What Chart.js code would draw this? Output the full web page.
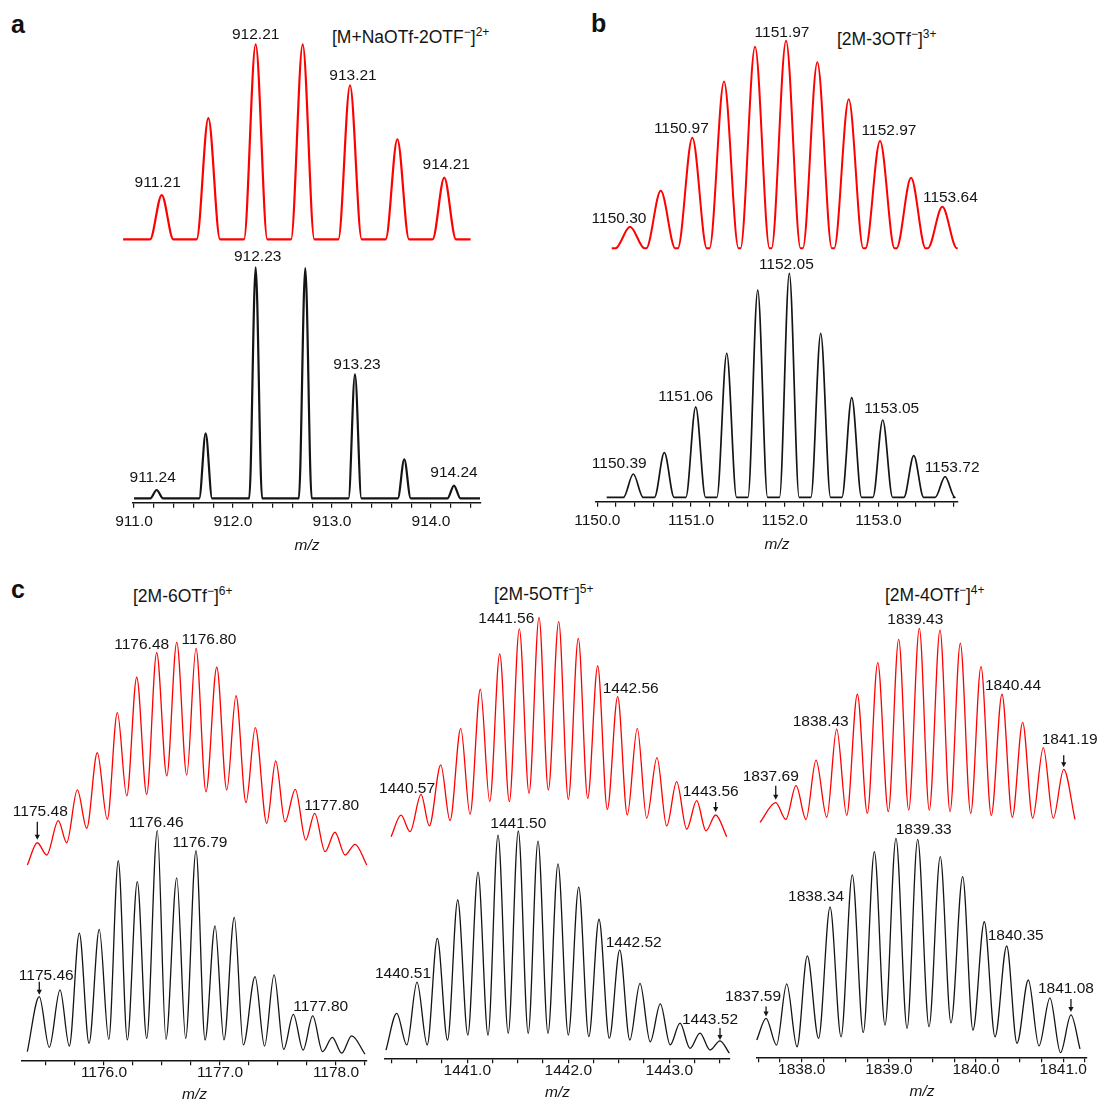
<!DOCTYPE html>
<html lang="en">
<head>
<meta charset="UTF-8">
<title>Isotope patterns</title>
<script src="https://cdn.jsdelivr.net/npm/chart.js"></script>
<style>
    body { margin: 0; background: #fff; font-family: "Liberation Sans", Arial, sans-serif; }
    #fig { position: relative; width: 1099px; height: 1111px; overflow: hidden; }
    #fig canvas { position: absolute; }
    .letter { position: absolute; font-weight: bold; font-size: 25px; line-height: 30px; color: #111; }
    .title { position: absolute; font-size: 17.5px; line-height: 20px; color: #141414; white-space: nowrap; }
    .title sup { font-size: 12px; line-height: 0; vertical-align: 7px; }
</style>
</head>
<body>
<div id="fig">
    <div class="letter" style="left:11px; top:9px">a</div>
    <div class="letter" style="left:591px; top:8px">b</div>
    <div class="letter" style="left:11px; top:574px">c</div>
    <div class="title" style="left:332px; top:27px">[M+NaOTf-2OTF<sup>−</sup>]<sup>2+</sup></div>
    <div class="title" style="left:837px; top:29px">[2M-3OTf<sup>−</sup>]<sup>3+</sup></div>
    <div class="title" style="left:133px; top:586px">[2M-6OTf<sup>−</sup>]<sup>6+</sup></div>
    <div class="title" style="left:494px; top:584px">[2M-5OTf<sup>−</sup>]<sup>5+</sup></div>
    <div class="title" style="left:885px; top:585px">[2M-4OTf<sup>−</sup>]<sup>4+</sup></div>
</div>

<script>
    const RED = '#ff0000';
    const INK = '#141414';
    const FONT = '"Liberation Sans", Arial, Helvetica, sans-serif';

    // ---- a: [M+NaOTf-2OTF-]2+ (red = calculated, black = measured) ----
    const aTicks = [911, 912, 913, 914];
    const aCalcMz = [911.280, 911.751, 912.229, 912.704, 913.182, 913.660, 914.134];
    const aCalcInt = [22.7, 62.1, 100, 100, 79.0, 51.3, 31.6];
    const aCalcEnds = [910.89, 914.40];
    const aCalcLabels = [911.21, 912.21, 913.21, 914.21];
    const aCalcLabelAt = [0, 2, 4, 6];
    const aExpMz = [911.229, 911.724, 912.229, 912.730, 913.232, 913.730, 914.232];
    const aExpInt = [3.6, 28.1, 100, 99.6, 53.7, 16.9, 5.5];
    const aExpEnds = [911.0, 914.495];
    const aExpLabels = [911.24, 912.23, 913.23, 914.24];
    const aExpLabelAt = [0, 2, 4, 6];

    // ---- b: [2M-3OTf-]3+ ----
    const bTicks = [1150, 1151, 1152, 1153];
    const bCalcMz = [1150.349, 1150.677, 1151.014, 1151.352, 1151.683, 1152.014, 1152.348, 1152.683, 1153.017, 1153.348, 1153.682];
    const bCalcInt = [10.4, 27.7, 53.3, 80.3, 97.1, 100, 89.6, 71.8, 51.7, 34.0, 20.0];
    const bCalcEnds = [1150.154, 1153.846];
    const bCalcLabels = [1150.30, 1150.97, 1151.97, 1152.97, 1153.64];
    const bCalcLabelAt = [0, 2, 5, 8, 10];
    const bExpMz = [1150.384, 1150.715, 1151.050, 1151.381, 1151.712, 1152.049, 1152.384, 1152.715, 1153.046, 1153.377, 1153.711];
    const bExpInt = [10.4, 19.9, 40.4, 64.3, 92.5, 100, 73.2, 44.5, 34.5, 18.6, 9.2];
    const bExpEnds = [1150.100, 1153.793];
    const bExpLabels = [1150.39, 1151.06, 1152.05, 1153.05, 1153.72];
    const bExpLabelAt = [0, 2, 5, 8, 10];

    // ---- c1: [2M-6OTf-]6+ ----
    const c1Ticks = [1176, 1177, 1178];
    const c1CalcMz = [1175.425, 1175.606, 1175.770, 1175.942, 1176.115, 1176.282, 1176.454, 1176.627, 1176.793, 1176.972, 1177.138, 1177.304, 1177.480, 1177.649, 1177.816, 1177.991, 1178.164];
    const c1CalcInt = [10.0, 19.9, 33.7, 50.4, 68.4, 84.3, 95.3, 100, 97.3, 88.8, 76.0, 61.7, 46.7, 34.0, 23.2, 14.7, 9.3];
    const c1CalcValMz = [1175.339, 1175.506, 1175.678, 1175.851, 1176.028, 1176.196, 1176.368, 1176.541, 1176.713, 1176.879, 1177.058, 1177.224, 1177.403, 1177.560, 1177.739, 1177.905, 1178.078, 1178.265];
    const c1CalcValInt = [0, 4.5, 10.0, 16.5, 20.5, 31.0, 31.7, 40.0, 40.4, 32.9, 33.7, 28.0, 18.7, 19.4, 11.2, 6.0, 4.5, 0];
    const c1CalcLabels = [1175.48, 1176.48, 1176.80, 1177.80];
    const c1CalcLabelAt = [0, 6, 8, 14];
    const c1ExpMz = [1175.442, 1175.621, 1175.787, 1175.959, 1176.123, 1176.287, 1176.459, 1176.627, 1176.793, 1176.957, 1177.123, 1177.302, 1177.466, 1177.632, 1177.799, 1177.968, 1178.135];
    const c1ExpInt = [26.0, 29.0, 54.3, 56.0, 86.6, 77.3, 100, 79.0, 91.1, 57.6, 61.4, 34.9, 35.7, 18.1, 17.4, 7.9, 8.5];
    const c1ExpValMz = [1175.339, 1175.528, 1175.701, 1175.871, 1176.041, 1176.201, 1176.368, 1176.534, 1176.704, 1176.871, 1177.034, 1177.201, 1177.384, 1177.549, 1177.716, 1177.884, 1178.049, 1178.250];
    const c1ExpValInt = [1.5, 3.4, 4.0, 5.2, 7.0, 6.7, 7.4, 7.0, 7.4, 6.7, 6.7, 4.5, 4.0, 2.5, 2.2, 1.5, 0.8, 0.4];
    const c1ExpLabels = [1175.46, 1176.46, 1176.79, 1177.80];
    const c1ExpLabelAt = [0, 6, 8, 14];

    // ---- c2: [2M-5OTf-]5+ ----
    const c2Ticks = [1441, 1442, 1443];
    const c2CalcMz = [1440.344, 1440.542, 1440.737, 1440.935, 1441.129, 1441.321, 1441.515, 1441.710, 1441.905, 1442.099, 1442.291, 1442.489, 1442.683, 1442.878, 1443.073, 1443.271, 1443.459];
    const c2CalcInt = [9.8, 19.3, 32.7, 49.4, 67.2, 83.3, 94.7, 100, 98.0, 90.4, 77.8, 63.8, 49.4, 36.0, 25.1, 16.4, 9.9];
    const c2CalcValMz = [1440.245, 1440.433, 1440.624, 1440.829, 1441.027, 1441.222, 1441.416, 1441.611, 1441.802, 1442.000, 1442.192, 1442.386, 1442.584, 1442.776, 1442.974, 1443.172, 1443.363, 1443.568];
    const c2CalcValInt = [0, 2.3, 4.9, 7.3, 10.2, 16.0, 16.0, 19.8, 21.3, 17.0, 17.5, 12.5, 9.9, 8.4, 4.9, 3.4, 2.7, 0];
    const c2CalcLabels = [1440.57, 1441.56, 1442.56, 1443.56];
    const c2CalcLabelAt = [1, 6, 11, 16];
    const c2ExpMz = [1440.301, 1440.502, 1440.703, 1440.905, 1441.106, 1441.304, 1441.505, 1441.700, 1441.898, 1442.103, 1442.304, 1442.509, 1442.710, 1442.911, 1443.106, 1443.304, 1443.502];
    const c2ExpInt = [18.6, 32.5, 52.1, 69.2, 81.6, 98.2, 100, 95.5, 85.3, 74.9, 60.6, 46.9, 32.0, 22.8, 14.2, 9.8, 6.3];
    const c2ExpValMz = [1440.195, 1440.401, 1440.603, 1440.804, 1441.005, 1441.205, 1441.405, 1441.603, 1441.799, 1442.000, 1442.203, 1442.406, 1442.609, 1442.811, 1443.009, 1443.205, 1443.403, 1443.594];
    const c2ExpValInt = [2.2, 4.5, 4.5, 6.7, 8.9, 8.9, 9.7, 9.7, 9.7, 8.9, 8.2, 7.5, 6.7, 5.9, 4.5, 3.0, 2.2, 0.8];
    const c2ExpLabels = [1440.51, 1441.50, 1442.52, 1443.52];
    const c2ExpLabelAt = [1, 6, 11, 16];

    // ---- c3: [2M-4OTf-]4+ ----
    const c3Ticks = [1838, 1839, 1840, 1841];
    const c3CalcMz = [1837.702, 1837.935, 1838.164, 1838.401, 1838.638, 1838.872, 1839.112, 1839.349, 1839.586, 1839.819, 1840.056, 1840.297, 1840.534, 1840.771, 1841.005];
    const c3CalcInt = [10.1, 18.9, 32.1, 48.1, 66.0, 82.3, 94.3, 100, 99.1, 92.3, 80.2, 66.0, 51.5, 38.5, 27.3];
    const c3CalcValMz = [1837.522, 1837.817, 1838.049, 1838.287, 1838.516, 1838.752, 1838.993, 1839.227, 1839.463, 1839.701, 1839.938, 1840.174, 1840.415, 1840.649, 1840.885, 1841.134];
    const c3CalcValInt = [0, 1.5, 1.5, 2.6, 3.6, 4.6, 5.5, 6.3, 6.3, 5.5, 4.6, 3.6, 2.6, 2.1, 2.1, 1.5];
    const c3CalcLabels = [1837.69, 1838.43, 1839.43, 1840.44, 1841.19];
    const c3CalcLabelAt = [0, 3, 7, 11, 14];
    const c3ExpMz = [1837.591, 1837.828, 1838.064, 1838.325, 1838.580, 1838.833, 1839.081, 1839.330, 1839.589, 1839.846, 1840.094, 1840.351, 1840.599, 1840.847, 1841.088];
    const c3ExpInt = [16.9, 32.8, 45.7, 68.2, 83.1, 93.8, 100, 99.5, 91.5, 82.3, 61.5, 50.3, 34.6, 26.4, 18.5];
    const c3ExpValMz = [1837.484, 1837.711, 1837.946, 1838.193, 1838.451, 1838.706, 1838.955, 1839.208, 1839.460, 1839.712, 1839.964, 1840.217, 1840.469, 1840.721, 1840.968, 1841.192];
    const c3ExpValInt = [6.9, 4.6, 3.8, 7.7, 8.4, 10.4, 13.8, 12.3, 13.1, 14.8, 11.5, 8.4, 5.4, 4.2, 1.1, 2.8];
    const c3ExpLabels = [1837.59, 1838.34, 1839.33, 1840.35, 1841.08];
    const c3ExpLabelAt = [0, 3, 7, 11, 14];

    // baseline-resolved peaks: foot, apex, foot
    function peakTrace(mz, inten, ends, hw) {
        const pts = [{ x: ends[0], y: 0 }];
        mz.forEach((m, i) => {
            pts.push({ x: m - hw, y: 0 }, { x: m, y: inten[i] }, { x: m + hw, y: 0 });
        });
        pts.push({ x: ends[1], y: 0 });
        return pts;
    }

    // overlapping peaks: valley, apex, valley, apex ... valley
    function extremaTrace(mz, inten, valMz, valInt) {
        const pts = [];
        valMz.forEach((m, i) => {
            pts.push({ x: m, y: valInt[i] });
            if (i < mz.length) pts.push({ x: mz[i], y: inten[i] });
        });
        return pts;
    }

    // layout: page pixels of the axis, of each trace's zero and 100 level, label offsets
    const panels = [
        {
            axisLeft: 133, axisRight: 481, padL: 40, padR: 40, top: 0, height: 555,
            xMin: 910.990, xMax: 914.505, minor: 0.2, ticks: aTicks, tickPad: 5, titlePad: 0,
            traces: [
                { data: peakTrace(aCalcMz, aCalcInt, aCalcEnds, 0.118), mz: aCalcMz, inten: aCalcInt, color: RED, width: 2.2,
                  p0: 239.3, p100: 44.3, labels: aCalcLabels, at: aCalcLabelAt,
                  off: [[-4, -12], [0, -10], [3, -10], [2, -13]] },
                { data: peakTrace(aExpMz, aExpInt, aExpEnds, 0.065), mz: aExpMz, inten: aExpInt, color: INK, width: 2.2,
                  p0: 498.3, p100: 267.3, labels: aExpLabels, at: aExpLabelAt,
                  off: [[-4, -12], [2, -11], [2, -10], [0, -13]] }
            ]
        },
        {
            axisLeft: 596, axisRight: 958, padL: 40, padR: 40, top: 0, height: 554,
            xMin: 1149.986, xMax: 1153.849, minor: 0.2, ticks: bTicks, tickPad: 5, titlePad: 0,
            traces: [
                { data: peakTrace(bCalcMz, bCalcInt, bCalcEnds, 0.155), mz: bCalcMz, inten: bCalcInt, color: RED, width: 2,
                  p0: 248.3, p100: 40.7, labels: bCalcLabels, at: bCalcLabelAt,
                  off: [[-11, -8], [-11, -9], [-4, -8], [9, -10], [8, -9]] },
                { data: peakTrace(bExpMz, bExpInt, bExpEnds, 0.105), mz: bExpMz, inten: bExpInt, color: INK, width: 1.7,
                  p0: 497.3, p100: 273.3, labels: bExpLabels, at: bExpLabelAt,
                  off: [[-14, -10], [-10, -10], [-3, -9], [9, -11], [7, -9]] }
            ]
        },
        {
            axisLeft: 22, axisRight: 367, padL: 20, padR: 10, top: 600, height: 504,
            xMin: 1175.293, xMax: 1178.267, minor: 0.25, ticks: c1Ticks, tickPad: -2, titlePad: 5.5,
            traces: [
                { data: extremaTrace(c1CalcMz, c1CalcInt, c1CalcValMz, c1CalcValInt), mz: c1CalcMz, inten: c1CalcInt, color: RED, width: 1.3,
                  p0: 865, p100: 642.3, labels: c1CalcLabels, at: c1CalcLabelAt,
                  off: [[3, -31, 21, 3], [-15, -8], [13, -9], [17, -8]] },
                { data: extremaTrace(c1ExpMz, c1ExpInt, c1ExpValMz, c1ExpValInt), mz: c1ExpMz, inten: c1ExpInt, color: INK, width: 1.3,
                  p0: 1055, p100: 830.7, labels: c1ExpLabels, at: c1ExpLabelAt,
                  off: [[7, -21, 15, 2], [-1, -8], [4, -8], [8, -9]] }
            ]
        },
        {
            axisLeft: 385, axisRight: 730, padL: 10, padR: 10, top: 600, height: 502,
            xMin: 1440.185, xMax: 1443.601, minor: 0.25, ticks: c2Ticks, tickPad: -2, titlePad: 5.5,
            traces: [
                { data: extremaTrace(c2CalcMz, c2CalcInt, c2CalcValMz, c2CalcValInt), mz: c2CalcMz, inten: c2CalcInt, color: RED, width: 1.3,
                  p0: 836.7, p100: 617.3, labels: c2CalcLabels, at: c2CalcLabelAt,
                  off: [[-14, -6], [-13, -10], [13, -8], [-5, -23, 13, 3]] },
                { data: extremaTrace(c2ExpMz, c2ExpInt, c2ExpValMz, c2ExpValInt), mz: c2ExpMz, inten: c2ExpInt, color: INK, width: 1.3,
                  p0: 1055, p100: 831, labels: c2ExpLabels, at: c2ExpLabelAt,
                  off: [[-14, -8], [0, -7], [14, -7], [-10, -21, 13, 1]] }
            ]
        },
        {
            axisLeft: 757, axisRight: 1087, padL: 40, padR: 12, top: 600, height: 501,
            xMin: 1837.487, xMax: 1841.272, minor: 0.25, ticks: c3Ticks, tickPad: -2, titlePad: 5.5,
            traces: [
                { data: extremaTrace(c3CalcMz, c3CalcInt, c3CalcValMz, c3CalcValInt), mz: c3CalcMz, inten: c3CalcInt, color: RED, width: 1.3,
                  p0: 822.3, p100: 628.3, labels: c3CalcLabels, at: c3CalcLabelAt,
                  off: [[-5, -26, 17, 3], [-16, -7], [-4, -9], [11, -9], [6, -30, 14, 2]] },
                { data: extremaTrace(c3ExpMz, c3ExpInt, c3ExpValMz, c3ExpValInt), mz: c3ExpMz, inten: c3ExpInt, color: INK, width: 1.3,
                  p0: 1055, p100: 838.3, labels: c3ExpLabels, at: c3ExpLabelAt,
                  off: [[-13, -22, 12, 2], [-14, -10], [6, -10], [9, -10], [-5, -26, 16, 3]] }
            ]
        }
    ];

    function drawArrow(ctx, x, y1, y2) {
        ctx.lineWidth = 1.3;
        ctx.beginPath();
        ctx.moveTo(x, y1);
        ctx.lineTo(x, y2 - 4);
        ctx.stroke();
        ctx.beginPath();
        ctx.moveTo(x - 2.6, y2 - 5);
        ctx.lineTo(x + 2.6, y2 - 5);
        ctx.lineTo(x, y2);
        ctx.closePath();
        ctx.fill();
    }

    function labelPlugin(panel) {
        return {
            id: 'peakLabels',
            afterDatasetsDraw(chart) {
                const ctx = chart.ctx;
                const xs = chart.scales.x;
                ctx.save();
                ctx.font = '15.5px ' + FONT;
                ctx.fillStyle = INK;
                ctx.strokeStyle = INK;
                ctx.textAlign = 'center';
                ctx.textBaseline = 'middle';
                panel.traces.forEach((tr, k) => {
                    const ys = chart.scales['y' + k];
                    tr.labels.forEach((val, j) => {
                        const i = tr.at[j];
                        const o = tr.off[j];
                        const px = xs.getPixelForValue(tr.mz[i]);
                        const py = ys.getPixelForValue(tr.inten[i]);
                        ctx.fillText(val.toFixed(2), px + o[0], py + o[1]);
                        if (o.length > 2) drawArrow(ctx, px, py - o[2], py - o[3]);
                    });
                });
                ctx.restore();
            }
        };
    }

    const fig = document.getElementById('fig');

    panels.forEach(p => {
        const cv = document.createElement('canvas');
        cv.width = p.axisRight - p.axisLeft + p.padL + p.padR;
        cv.height = p.height;
        cv.style.left = (p.axisLeft - p.padL) + 'px';
        cv.style.top = p.top + 'px';
        fig.appendChild(cv);

        const scales = {
            x: {
                type: 'linear',
                min: p.xMin,
                max: p.xMax,
                border: { display: true, color: INK, width: 1.4 },
                grid: { display: true, drawOnChartArea: false, drawTicks: true, tickLength: 5, color: INK, lineWidth: 1.2 },
                ticks: {
                    stepSize: p.minor,
                    includeBounds: false,
                    autoSkip: false,
                    maxRotation: 0,
                    padding: p.tickPad,
                    color: INK,
                    font: { family: FONT, size: 15.5 },
                    callback: v => p.ticks.some(t => Math.abs(t - v) < 1e-6) ? v.toFixed(1) : ''
                },
                title: {
                    display: true,
                    text: 'm/z',
                    color: INK,
                    font: { family: FONT, size: 15.5, style: 'italic' },
                    padding: { top: p.titlePad, bottom: 0 }
                }
            }
        };
        p.traces.forEach((tr, k) => {
            scales['y' + k] = { type: 'linear', display: false, min: 0, max: 100 };
        });

        const chart = new Chart(cv, {
            type: 'line',
            data: {
                datasets: p.traces.map((tr, k) => ({
                    data: tr.data,
                    yAxisID: 'y' + k,
                    borderColor: tr.color,
                    borderWidth: tr.width,
                    pointRadius: 0,
                    fill: false,
                    cubicInterpolationMode: 'monotone',
                    capBezierPoints: false,
                    borderJoinStyle: 'round',
                    clip: false
                }))
            },
            options: {
                responsive: false,
                animation: false,
                events: [],
                layout: { padding: { left: p.padL, right: p.padR, top: 0, bottom: 0 }, autoPadding: false },
                plugins: { legend: { display: false }, tooltip: { enabled: false } },
                scales: scales
            },
            plugins: [labelPlugin(p)]
        });

        // put each trace's zero and 100 % level on the page rows
        const T = p.top + chart.chartArea.top;
        const B = p.top + chart.chartArea.bottom;
        p.traces.forEach((tr, k) => {
            const s = (tr.p0 - tr.p100) / 100;
            chart.options.scales['y' + k].min = -(B - tr.p0) / s;
            chart.options.scales['y' + k].max = (tr.p0 - T) / s;
        });
        chart.update('none');
    });
</script>
</body>
</html>
